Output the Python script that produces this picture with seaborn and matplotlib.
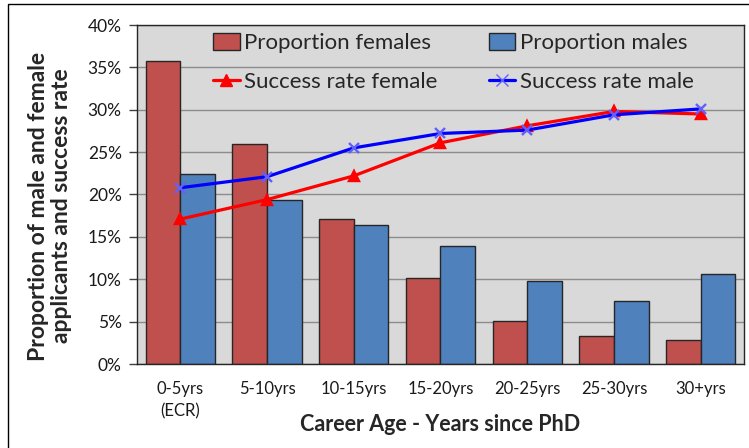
import numpy as np
import pandas as pd
import matplotlib
matplotlib.use('Agg')
import matplotlib.pyplot as plt
import seaborn as sns
from matplotlib.patches import Patch, Rectangle
from matplotlib.lines import Line2D
from matplotlib.ticker import PercentFormatter, FixedLocator

# data (percent)
career_age = ['0-5yrs\n(ECR)', '5-10yrs', '10-15yrs', '15-20yrs', '20-25yrs', '25-30yrs', '30+yrs']
prop_female = [35.7, 26.0, 17.1, 10.2, 5.1, 3.3, 2.8]
prop_male = [22.4, 19.4, 16.4, 13.9, 9.8, 7.4, 10.6]
success_female = [17.1, 19.4, 22.2, 26.1, 28.1, 29.8, 29.5]
success_male = [20.8, 22.1, 25.5, 27.2, 27.6, 29.4, 30.1]

red_bar = '#C0504D'
blue_bar = '#4F81BD'

bars = pd.DataFrame({
    'age': career_age * 2,
    'value': prop_female + prop_male,
    'series': ['Proportion females'] * 7 + ['Proportion males'] * 7,
})
rates = pd.DataFrame({'age': career_age, 'female': success_female, 'male': success_male})

sns.set_style('white')
plt.rcParams['font.family'] = ['Lato', 'DejaVu Sans']

fig = plt.figure(figsize=(7.49, 4.48), dpi=100)
ax = fig.add_axes([137/749, 1 - 364/448, (744 - 137)/749, (364 - 25)/448])
ax.set_facecolor('#D9D9D9')

sns.barplot(data=bars, x='age', y='value', hue='series', palette=[red_bar, blue_bar],
            saturation=1, edgecolor='#262626', linewidth=1, errorbar=None, legend=False,
            ax=ax, zorder=2)
sns.pointplot(data=rates, x='age', y='female', color='#FF0000', markers='^', linestyles='-',
              markersize=7, linewidth=2.3, errorbar=None, ax=ax, zorder=4)
sns.pointplot(data=rates, x='age', y='male', color='#0000FF', markers='x', linestyles='-',
              markersize=7, linewidth=2.3, errorbar=None, ax=ax, zorder=4)
ax.lines[-1].set_markeredgecolor('#6060FF')

ax.set_ylim(0, 40)
ax.set_xlim(-0.5, 6.5)
ax.yaxis.set_major_locator(FixedLocator(np.arange(0, 41, 5)))
ax.yaxis.set_major_formatter(PercentFormatter(100, decimals=0))
ax.grid(axis='y', color='#8C8C8C', linewidth=1, zorder=0)
ax.set_axisbelow(True)

ax.set_xticks(range(len(career_age)))
ax.set_xticklabels(career_age, linespacing=1.5)
ax.set_xticks(np.arange(-0.5, 7, 1), minor=True)
ax.tick_params(axis='x', which='major', length=0, pad=12, labelsize=12, colors='#1a1a1a')
ax.tick_params(axis='x', which='minor', length=6, width=1, color='#404040', direction='out')
ax.tick_params(axis='y', length=6, width=1, color='#404040', direction='out', left=True,
               labelsize=12.5, pad=5, labelcolor='#1a1a1a')

for s in ax.spines.values():
    s.set_color('#262626')
    s.set_linewidth(1)

ax.set_xlabel('Career Age - Years since PhD', fontsize=15.5, fontweight='bold')
ax.xaxis.set_label_coords(0.5, (364 - 414)/339)
ax.set_ylabel('Proportion of male and female\napplicants and success rate', fontsize=16.5,
              fontweight='bold', linespacing=1.1)
ax.yaxis.set_label_coords((72 - 137)/607, (364 - 206)/339)

handles = [
    Patch(facecolor=red_bar, edgecolor='#262626'),
    Line2D([], [], color='#FF0000', marker='^', lw=2.3, ms=8),
    Patch(facecolor=blue_bar, edgecolor='#262626'),
    Line2D([], [], color='#0000FF', marker='x', lw=2.3, ms=8, mec='#6060FF'),
]
labels = ['Proportion females', 'Success rate female', 'Proportion males', 'Success rate male']
ax.legend(handles, labels, ncol=2, loc='upper left',
          bbox_to_anchor=((213 - 137)/607, (364 - 33)/339),
          frameon=False, fontsize=16, handlelength=1.2, handleheight=0.8, handletextpad=0.2,
          columnspacing=2.3, labelspacing=0.85, borderpad=0, borderaxespad=0)

fig.add_artist(Rectangle((8/749, -0.1), 1.1, 1 - 4/448 + 0.1, transform=fig.transFigure,
                         fill=False, edgecolor='black', linewidth=1))

fig.savefig('out.png', dpi=100)
